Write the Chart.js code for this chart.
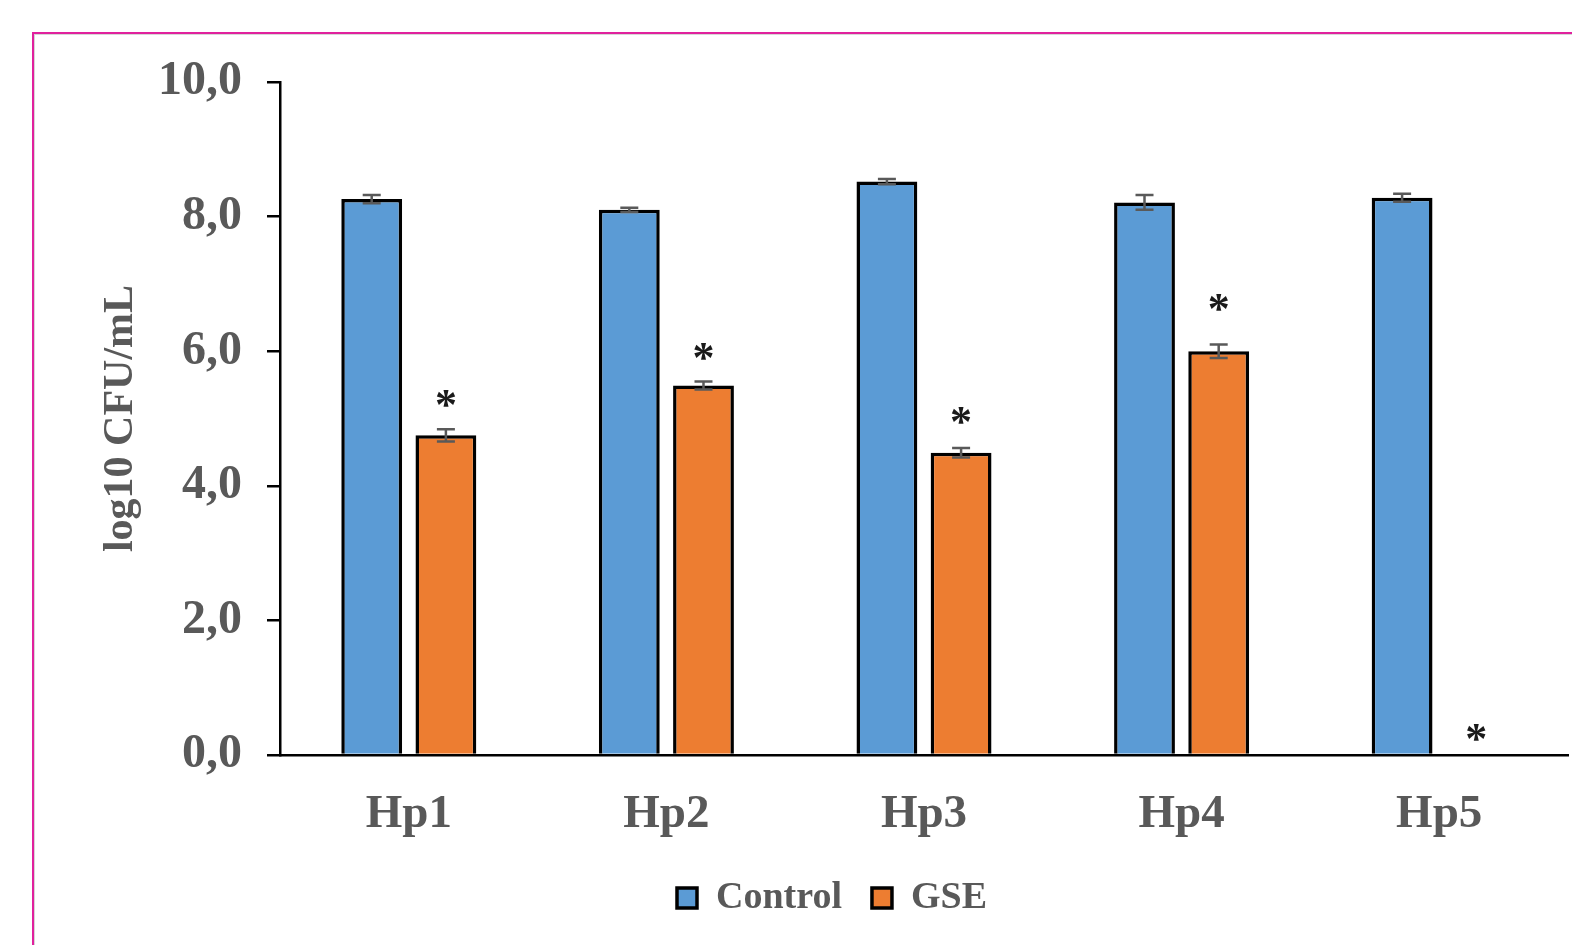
<!DOCTYPE html>
<html>
<head>
<meta charset="utf-8">
<script src="https://cdn.jsdelivr.net/npm/chart.js@4.4.0/dist/chart.umd.min.js"></script>
<style>
  html, body { margin: 0; padding: 0; background: #fff; overflow: hidden; }
  #frame { position: absolute; left: 32px; top: 32px; width: 1600px; height: 1000px;
           border: 2px solid #e0219d; box-shadow: inset 1px 1px 0 #d6d6d6; }
  #mycanvas { position: absolute; left: 0; top: 0; }
</style>
</head>
<body>
<div id="frame"></div>
<canvas id="mycanvas" width="1572" height="945"></canvas>
<script>
// values (log10 CFU/mL)
var strains = ["Hp1", "Hp2", "Hp3", "Hp4", "Hp5"];
var control = [8.26, 8.10, 8.52, 8.21, 8.28];
var controlErr = [0.06, 0.03, 0.04, 0.11, 0.06];
var gse = [4.75, 5.49, 4.49, 6.00, 0];
var gseErr = [0.09, 0.06, 0.07, 0.10, 0];
// height (in axis units) where each "*" sits above the GSE bar
var starY = [5.29, 5.99, 5.04, 6.72, 0.33];
var yTicks = [0, 2, 4, 6, 8, 10];

var grey = "#595959";
var serif = "'Liberation Serif', 'Times New Roman', serif";

var errorBars = {
  id: "errorBars",
  afterDatasetsDraw: function (chart) {
    var ctx = chart.ctx;
    var y = chart.scales.y;
    var errs = [controlErr, gseErr];
    ctx.save();
    ctx.strokeStyle = grey;
    ctx.lineWidth = 2.5;
    chart.data.datasets.forEach(function (ds, i) {
      var meta = chart.getDatasetMeta(i);
      meta.data.forEach(function (bar, j) {
        var e = errs[i][j];
        if (!e) return;
        var v = ds.data[j];
        var top = y.getPixelForValue(v + e);
        var bot = y.getPixelForValue(v - e);
        ctx.beginPath();
        ctx.moveTo(bar.x, top); ctx.lineTo(bar.x, bot);
        ctx.moveTo(bar.x - 9, top); ctx.lineTo(bar.x + 9, top);
        ctx.moveTo(bar.x - 9, bot); ctx.lineTo(bar.x + 9, bot);
        ctx.stroke();
      });
    });
    // significance stars over GSE
    var meta = chart.getDatasetMeta(1);
    ctx.fillStyle = "#1a1a1a";
    ctx.font = "bold 44px " + serif;
    ctx.textAlign = "center";
    ctx.textBaseline = "alphabetic";
    meta.data.forEach(function (bar, j) {
      ctx.fillText("*", bar.x, y.getPixelForValue(starY[j]) + 20);
    });
    ctx.restore();
  }
};

var chartdata = {
  labels: strains,
  datasets: [
    {
      label: "Control",
      data: control,
      backgroundColor: "#5b9bd5",
      borderColor: "#000",
      borderWidth: 3.5,
      borderSkipped: "start",
      categoryPercentage: 0.576,
      barPercentage: 0.82
    },
    {
      label: "GSE",
      data: gse,
      backgroundColor: "#ed7d31",
      borderColor: "#000",
      borderWidth: 3.5,
      borderSkipped: "start",
      categoryPercentage: 0.576,
      barPercentage: 0.82
    }
  ]
};

var ctx = document.getElementById("mycanvas");
var chart = new Chart(ctx, {
  type: "bar",
  data: chartdata,
  plugins: [errorBars],
  options: {
    responsive: false,
    animation: false,
    layout: { padding: { left: 96, right: 4, top: 82, bottom: 18 } },
    plugins: {
      tooltip: { enabled: false },
      legend: {
        position: "bottom",
        labels: {
          boxWidth: 20,
          boxHeight: 20,
          padding: 30,
          color: grey,
          font: { family: serif, size: 38, weight: "bold" }
        }
      }
    },
    scales: {
      x: {
        grid: { display: false },
        border: { color: "#000", width: 2.5 },
        ticks: {
          color: grey,
          padding: 24,
          font: { family: serif, size: 47, weight: "bold" }
        },
        afterFit: function (scale) { scale.height = 94; }
      },
      y: {
        min: 0,
        max: 10,
        afterBuildTicks: function (scale) {
          scale.ticks = yTicks.map(function (v) { return { value: v }; });
        },
        grid: { drawOnChartArea: false, color: "#000", lineWidth: 2.5, tickLength: 13 },
        border: { color: "#000", width: 2.5 },
        ticks: {
          color: grey,
          padding: 25,
          font: { family: serif, size: 48, weight: "bold" },
          callback: function (v) { return v.toFixed(1).replace(".", ","); }
        },
        title: {
          display: true,
          text: "log10 CFU/mL",
          color: grey,
          padding: 0,
          font: { family: serif, size: 42, weight: "bold" }
        },
        afterFit: function (scale) { scale.width = 184; }
      }
    }
  }
});
</script>
</body>
</html>
